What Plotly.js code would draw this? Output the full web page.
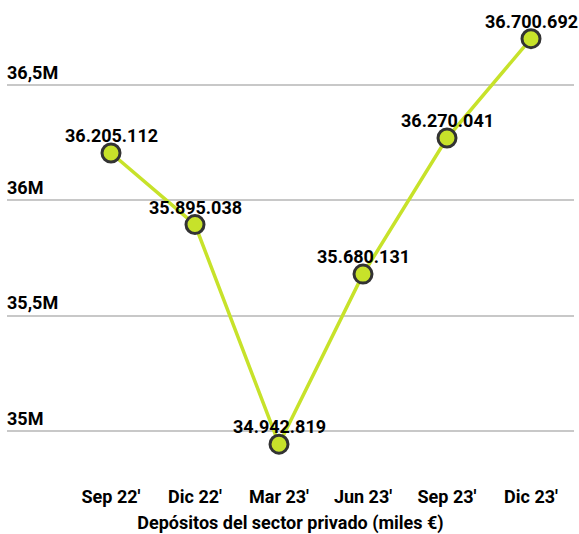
<!DOCTYPE html>
<html>
<head>
<meta charset="utf-8">
<script src="https://cdn.plot.ly/plotly-3.0.1.min.js"></script>
<style>
  html, body { margin: 0; padding: 0; background: #fff; }
  #chart { width: 579px; height: 534px; }
</style>
</head>
<body>
<div id="chart"></div>
<script>
const categories = ["Sep 22'", "Dic 22'", "Mar 23'", "Jun 23'", "Sep 23'", "Dic 23'"];
const depositos = [36205112, 35895038, 34942819, 35680131, 36270041, 36700692];
const labels = ["36.205.112", "35.895.038", "34.942.819", "35.680.131", "36.270.041", "36.700.692"];
const yTickVals = [35000000, 35500000, 36000000, 36500000];
const yTickText = ["35M", "35,5M", "36M", "36,5M"];
const xTitle = "Depósitos del sector privado (miles €)";

const FONT = "Roboto, 'Open Sans', sans-serif";
const BOLD = { family: FONT, size: 18, color: "#000", weight: 700 };

const xIdx = categories.map((c, i) => i);

const trace = {
  type: "scatter",
  mode: "lines+markers",
  x: xIdx,
  y: depositos,
  line: { color: "#c7e22a", width: 3.5 },
  marker: { color: "#c7e22a", size: 18, line: { color: "#333333", width: 3 } },
  hoverinfo: "skip",
  cliponaxis: false
};

const annotations = labels.map((t, i) => ({
  x: xIdx[i],
  y: depositos[i],
  xref: "x",
  yref: "y",
  text: t,
  showarrow: false,
  xanchor: "center",
  yanchor: "bottom",
  yshift: 5,
  font: BOLD
}));

const layout = {
  width: 579,
  height: 534,
  margin: { l: 7, r: 5, t: 5, b: 59 },
  paper_bgcolor: "#ffffff",
  plot_bgcolor: "#ffffff",
  showlegend: false,
  font: BOLD,
  annotations: annotations,
  xaxis: {
    range: [-1.2381, 5.5119],
    tickmode: "array",
    tickvals: xIdx,
    ticktext: categories,
    showgrid: false,
    zeroline: false,
    showline: false,
    ticks: "",
    ticklabelstandoff: 9,
    tickfont: BOLD,
    title: { text: xTitle, font: BOLD, standoff: 16 }
  },
  yaxis: {
    range: [34809300, 36846800],
    tickmode: "array",
    tickvals: yTickVals,
    ticktext: yTickText,
    ticklabelposition: "inside top",
    ticklabelstandoff: -3,
    showgrid: true,
    gridcolor: "#c8c8c8",
    gridwidth: 2,
    zeroline: false,
    showline: false,
    ticks: "",
    tickfont: BOLD
  }
};

Plotly.newPlot("chart", [trace], layout, { displayModeBar: false, staticPlot: true });
</script>
</body>
</html>
